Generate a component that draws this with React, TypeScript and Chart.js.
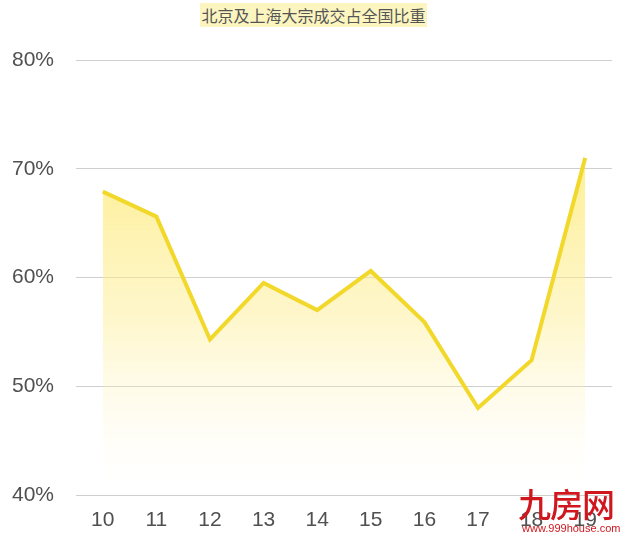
import React, { useEffect, useRef } from "react";
import { Chart, registerables } from "chart.js";

Chart.register(...registerables);

const title = "北京及上海大宗成交占全国比重";
const categories = ["10", "11", "12", "13", "14", "15", "16", "17", "18", "19"];
const shareValues = [67.9, 65.6, 54.3, 59.5, 57.0, 60.6, 55.9, 48.0, 52.4, 71.0];
const yTicks = [40, 50, 60, 70, 80];

export default function App() {
  const ref = useRef<HTMLCanvasElement | null>(null);

  useEffect(() => {
    const canvas = ref.current;
    if (!canvas) return;
    const chart = new Chart(canvas, {
      type: "line",
      data: {
        labels: categories,
        datasets: [
          {
            data: shareValues,
            borderColor: "#F2D82B",
            borderWidth: 4,
            pointRadius: 0,
            tension: 0,
            fill: "start",
            backgroundColor: (ctx: any) => {
              const area = ctx.chart.chartArea;
              if (!area) return "rgba(253,236,120,0.5)";
              const g = ctx.chart.ctx.createLinearGradient(0, 150, 0, 485);
              g.addColorStop(0, "rgba(253,232,100,0.7)");
              g.addColorStop(0.5, "rgba(253,236,140,0.45)");
              g.addColorStop(1, "rgba(255,248,210,0.0)");
              return g;
            },
          },
        ],
      },
      options: {
        responsive: false,
        animation: false,
        layout: { padding: { top: 60, right: 13, left: 0, bottom: 0 } },
        plugins: { legend: { display: false }, tooltip: { enabled: false }, title: { display: false } },
        scales: {
          x: {
            offset: true,
            grid: { display: false, drawTicks: false },
            border: { display: false },
            ticks: {
              color: "#505050",
              padding: 13,
              font: { size: 21, family: "'Liberation Sans', Arial, sans-serif" },
            },
            afterFit: (s: any) => {
              s.height = 43;
            },
          },
          y: {
            min: 40,
            max: 80,
            afterBuildTicks: (s: any) => {
              s.ticks = yTicks.map((v) => ({ value: v }));
            },
            grid: { color: "#cfcfcf", lineWidth: 1, drawTicks: false },
            border: { display: false },
            ticks: {
              color: "#505050",
              padding: 22,
              font: { size: 21, family: "'Liberation Sans', Arial, sans-serif" },
              callback: (v: any) => v + "%",
            },
            afterFit: (s: any) => {
              s.width = 76;
            },
          },
        },
      },
    });
    return () => chart.destroy();
  }, []);

  return (
    <div style={{ position: "absolute", left: 0, top: 0, width: 625, height: 538, background: "#fff", overflow: "hidden" }}>
      <canvas ref={ref} width={625} height={538} style={{ position: "absolute", left: 0, top: 0 }} />
      <div
        style={{
          position: "absolute",
          left: 0,
          top: 5,
          width: 627,
          textAlign: "center",
          fontFamily: "'Noto Sans CJK SC', sans-serif",
          fontSize: 16,
          lineHeight: "20px",
        }}
      >
        <span style={{ background: "#FCF5C0", color: "#555", padding: "0 1px" }}>{title}</span>
      </div>
      <div
        style={{
          position: "absolute",
          left: 518,
          top: 484,
          color: "#D0171E",
          fontFamily: "'Noto Sans CJK SC', sans-serif",
          fontSize: 33,
          lineHeight: "38px",
          fontWeight: 500,
          letterSpacing: -1,
        }}
      >
        九房网
      </div>
      <div
        style={{
          position: "absolute",
          left: 522,
          top: 522,
          color: "#D0171E",
          fontFamily: "Arial, 'Liberation Sans', sans-serif",
          fontSize: 11,
          lineHeight: "13px",
        }}
      >
        www.999house.com
      </div>
    </div>
  );
}
